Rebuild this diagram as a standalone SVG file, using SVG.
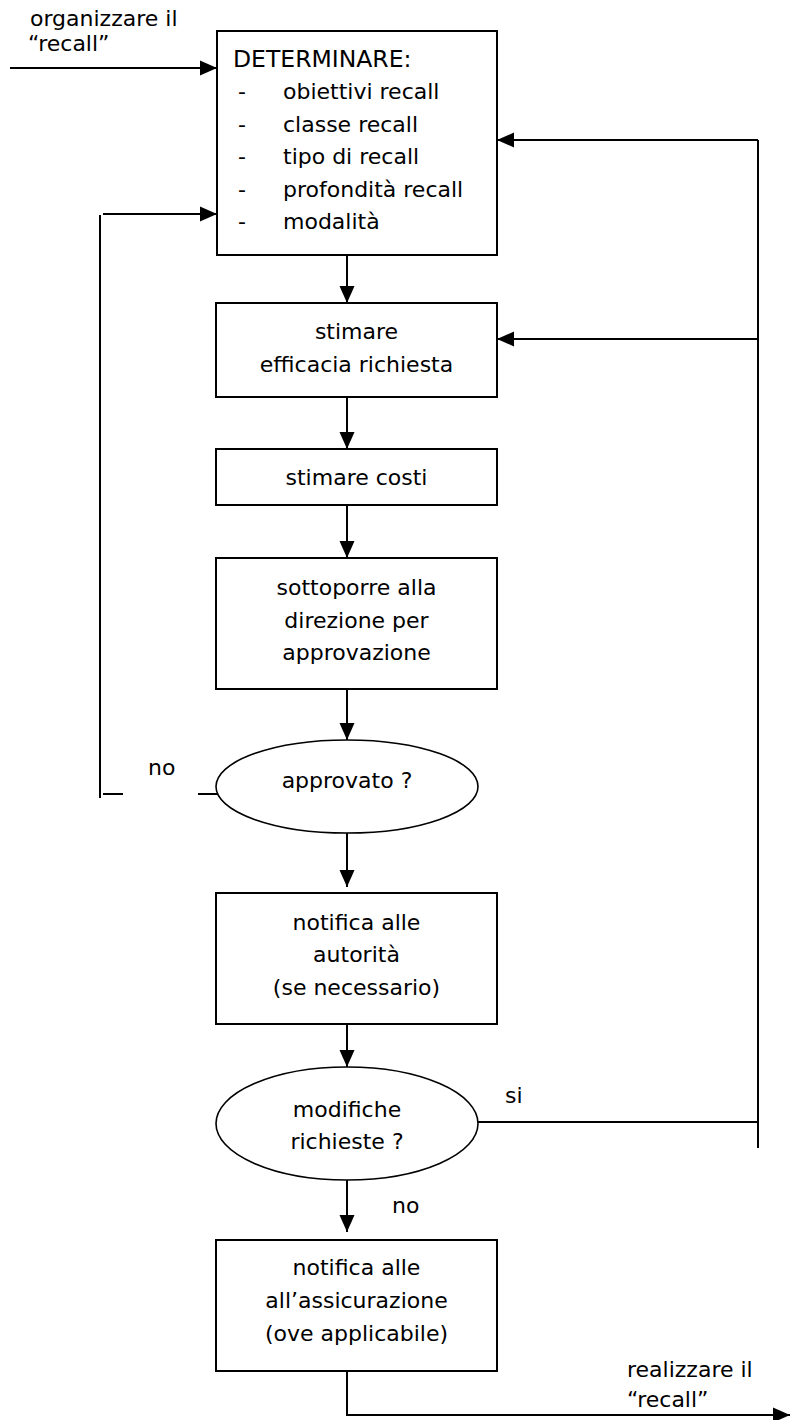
<svg xmlns="http://www.w3.org/2000/svg" width="790" height="1420" viewBox="0 0 790 1420">
  <style>
    text { font-family: "DejaVu Sans", "Liberation Sans", sans-serif; font-size: 22px; fill: #000; }
    .c { text-anchor: middle; }
    .head { font-size: 23.5px; }
    .shape { fill: #fff; stroke: #000; stroke-width: 2; }
    .ell { fill: #fff; stroke: #000; stroke-width: 1.6; }
    .wire { fill: none; stroke: #000; stroke-width: 2; }
    .arrow { fill: none; stroke: #000; stroke-width: 2; marker-end: url(#head); }
  </style>
  <defs>
    <marker id="head" markerUnits="userSpaceOnUse" markerWidth="18" markerHeight="16" refX="17" refY="7.5" orient="auto" overflow="visible">
      <path d="M0,0 L17,7.5 L0,15 Z" fill="#000"/>
    </marker>
  </defs>
  <rect width="790" height="1420" fill="#fff"/>

  <!-- flow lines -->
  <g id="connectors">
    <path class="arrow" d="M10,68 H217"/>
    <path class="wire" d="M100,215 V798"/>
    <path class="arrow" d="M103,214 H217"/>
    <path class="wire" d="M103,794 H123"/>
    <path class="wire" d="M198,794 H218"/>
    <path class="arrow" d="M347,248 V303"/>
    <path class="arrow" d="M347,394 V449"/>
    <path class="arrow" d="M347,503 V558"/>
    <path class="arrow" d="M347,685 V740"/>
    <path class="arrow" d="M347,833 V887"/>
    <path class="arrow" d="M347,1024 V1067"/>
    <path class="arrow" d="M347,1180 V1232"/>
    <path class="wire" d="M478,1122 H758"/>
    <path class="wire" d="M758,140 V1148"/>
    <path class="arrow" d="M758,140 H497"/>
    <path class="arrow" d="M758,339 H497"/>
    <path class="arrow" d="M347,1359 V1415 H790"/>
  </g>

  <!-- side labels -->
  <g id="labels">
    <text x="30" y="26">organizzare il</text>
    <text x="28" y="51">“recall”</text>
    <text x="148" y="775">no</text>
    <text x="505" y="1103">si</text>
    <text x="392" y="1213">no</text>
    <text x="627" y="1377">realizzare il</text>
    <text x="627" y="1407">“recall”</text>
  </g>

  <g id="determinare">
    <rect class="shape" x="217" y="31" width="280" height="224"/>
    <text class="head" x="233" y="67">DETERMINARE:</text>
    <g>
      <text x="238" y="99">-</text><text x="283" y="99">obiettivi recall</text>
      <text x="238" y="132">-</text><text x="283" y="132">classe recall</text>
      <text x="238" y="164">-</text><text x="283" y="164">tipo di recall</text>
      <text x="238" y="197">-</text><text x="283" y="197">profondità recall</text>
      <text x="238" y="229">-</text><text x="283" y="229">modalità</text>
    </g>
  </g>

  <g id="stimare-efficacia">
    <rect class="shape" x="216" y="303" width="281" height="94"/>
    <text class="c" x="356.5" y="339">stimare</text>
    <text class="c" x="356.5" y="372">efficacia richiesta</text>
  </g>

  <g id="stimare-costi">
    <rect class="shape" x="216" y="449" width="281" height="56"/>
    <text class="c" x="356.5" y="485">stimare costi</text>
  </g>

  <g id="sottoporre">
    <rect class="shape" x="216" y="558" width="281" height="131"/>
    <text class="c" x="356.5" y="595">sottoporre alla</text>
    <text class="c" x="356.5" y="628">direzione per</text>
    <text class="c" x="356.5" y="660">approvazione</text>
  </g>

  <g id="approvato">
    <ellipse class="ell" cx="347" cy="786.5" rx="131" ry="46.5"/>
    <text class="c" x="347" y="788">approvato ?</text>
  </g>

  <g id="notifica-autorita">
    <rect class="shape" x="216" y="893" width="281" height="131"/>
    <text class="c" x="356.5" y="930">notifica alle</text>
    <text class="c" x="356.5" y="962">autorità</text>
    <text class="c" x="356.5" y="995">(se necessario)</text>
  </g>

  <g id="modifiche">
    <ellipse class="ell" cx="347" cy="1123.5" rx="131" ry="56.5"/>
    <text class="c" x="347" y="1117">modifiche</text>
    <text class="c" x="347" y="1149">richieste ?</text>
  </g>

  <g id="notifica-assicurazione">
    <rect class="shape" x="216" y="1240" width="281" height="131"/>
    <text class="c" x="356.5" y="1275">notifica alle</text>
    <text class="c" x="356.5" y="1308">all’assicurazione</text>
    <text class="c" x="356.5" y="1341">(ove applicabile)</text>
  </g>
</svg>
